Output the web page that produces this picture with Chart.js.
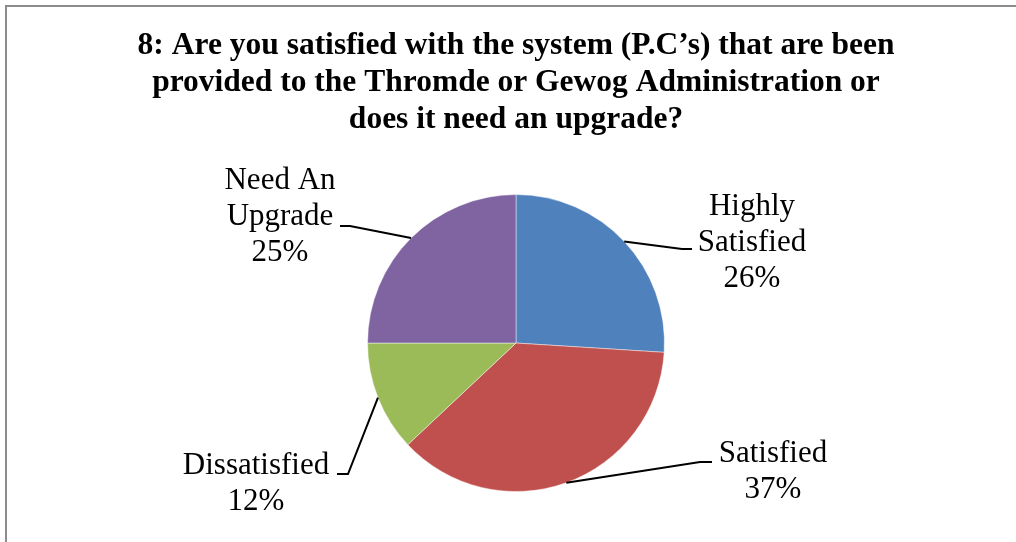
<!DOCTYPE html>
<html>
<head>
<meta charset="utf-8">
<title>Q8 PC satisfaction</title>
<script src="https://cdn.jsdelivr.net/npm/chart.js@4/dist/chart.umd.min.js"></script>
<style>
  html, body { margin: 0; padding: 0; background: #fff; overflow: hidden; }
  #wrap { position: relative; width: 1016px; height: 542px; }
</style>
</head>
<body>
<div id="wrap"><canvas id="chartQ8"></canvas></div>
<script>
// Survey answers, question 8
const categories = ['Highly Satisfied', 'Satisfied', 'Dissatisfied', 'Need An Upgrade'];
const labelLines = [['Highly', 'Satisfied'], ['Satisfied'], ['Dissatisfied'], ['Need An', 'Upgrade']];
const percentages = [26, 37, 12, 25];
const sliceColors = ['#4F81BD', '#C0504D', '#9BBB59', '#8064A2'];
const titleLines = [
  '8: Are you satisfied with the system (P.C\u2019s) that are been',
  'provided to the Thromde or Gewog Administration or',
  'does it need an upgrade?'
];

// label placement, relative to the pie centre: text centre x, first baseline, leader elbow and end
const labelPlacement = [
  { tx: 236, ty: -128, elbow: [166, -94], end: [176, -94] },
  { tx: 257, ty: 119, elbow: [184, 119], end: [196, 119] },
  { tx: -260, ty: 131, elbow: [-168, 131], end: [-179, 131] },
  { tx: -236, ty: -154, elbow: [-166, -117], end: [-176, -117] }
];

const serif = '"Liberation Serif", "Times New Roman", serif';

// white page + grey frame
const framePlugin = {
  id: 'frame',
  beforeDraw(chart) {
    const ctx = chart.ctx;
    ctx.save();
    ctx.fillStyle = '#fff';
    ctx.fillRect(0, 0, chart.width, chart.height);
    ctx.strokeStyle = '#8c8c8c';
    ctx.lineWidth = 2;
    ctx.strokeRect(6, 6, chart.width + 20, chart.height + 20);
    ctx.restore();
  }
};

// outside labels with leader lines
const leaderLabels = {
  id: 'leaderLabels',
  afterDatasetsDraw(chart) {
    const ctx = chart.ctx;
    const meta = chart.getDatasetMeta(0);
    const lineH = 35.8;
    ctx.save();
    meta.data.forEach((arc, i) => {
      const p = labelPlacement[i];
      const cx = arc.x, cy = arc.y;
      const mid = (arc.startAngle + arc.endAngle) / 2;
      const ax = cx + Math.cos(mid) * arc.outerRadius;
      const ay = cy + Math.sin(mid) * arc.outerRadius;

      ctx.strokeStyle = '#000';
      ctx.lineWidth = 2;
      ctx.beginPath();
      ctx.moveTo(ax, ay);
      ctx.lineTo(cx + p.elbow[0], cy + p.elbow[1]);
      ctx.lineTo(cx + p.end[0], cy + p.end[1]);
      ctx.stroke();

      const lines = labelLines[i].concat([percentages[i] + '%']);
      ctx.fillStyle = '#000';
      ctx.font = '31px ' + serif;
      ctx.textAlign = 'center';
      ctx.textBaseline = 'alphabetic';
      lines.forEach((t, k) => ctx.fillText(t, cx + p.tx, cy + p.ty + k * lineH));
    });
    ctx.restore();
  }
};

new Chart(document.getElementById('chartQ8'), {
  type: 'pie',
  data: {
    labels: categories,
    datasets: [{
      data: percentages,
      backgroundColor: sliceColors,
      borderColor: 'rgba(255,255,255,0.45)',
      borderWidth: 1
    }]
  },
  options: {
    responsive: true,
    maintainAspectRatio: false,
    animation: false,
    layout: { padding: { top: 28, bottom: 50, left: 16, right: 0 } },
    plugins: {
      legend: { display: false },
      tooltip: { enabled: false },
      title: {
        display: true,
        text: titleLines,
        color: '#000',
        font: { family: serif, size: 31.5, weight: 'bold', lineHeight: 1.165 },
        padding: { top: 0, bottom: 56 }
      }
    }
  },
  plugins: [framePlugin, leaderLabels]
});
</script>
</body>
</html>
